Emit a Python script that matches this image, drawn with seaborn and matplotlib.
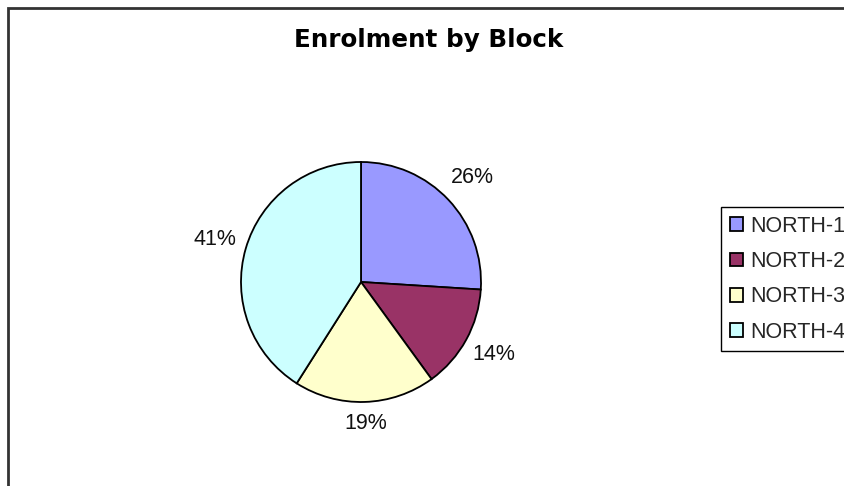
import numpy as np
import matplotlib
matplotlib.use("Agg")
import matplotlib.pyplot as plt
import matplotlib.patches as mpatches
import seaborn as sns

# data
blocks = ['NORTH-1', 'NORTH-2', 'NORTH-3', 'NORTH-4']
shares = [26, 14, 19, 41]
colors = ['#9999FF', '#993366', '#FFFFCC', '#CCFFFF']
title = 'Enrolment by Block'

sns.set_theme(style="white")
plt.rcParams['font.family'] = ['Liberation Sans', 'DejaVu Sans']
pal = sns.color_palette(colors)

W, H = 845, 486
fig = plt.figure(figsize=(W / 100, H / 100), dpi=100)
fig.patch.set_facecolor('white')

# chart border (right and bottom sides run past the picture)
fig.patches.append(mpatches.Rectangle((8 / W, -0.1), 1.2, 1.1 - 8 / H, transform=fig.transFigure,
                                      fill=False, edgecolor='#333333', linewidth=2, zorder=0))

# pie axes: centre (361, 282), radius 120 px
cx, cy, r = 361, 282, 120
ax = fig.add_axes([(cx - r) / W, (H - cy - r) / H, 2 * r / W, 2 * r / H])
wedges, texts, autotexts = ax.pie(shares, colors=pal, startangle=90, counterclock=False,
                                  autopct='%1.0f%%', pctdistance=1.25,
                                  wedgeprops=dict(edgecolor='black', linewidth=1.3),
                                  textprops=dict(fontsize=15.5, color='#111111'))
ax.set_xlim(-1, 1)
ax.set_ylim(-1, 1)
ax.set_aspect('equal')
ax.axis('off')

# label distances like the Excel placement
dists = [1.27, 1.26, 1.18, 1.27]
for w, t, d in zip(wedges, autotexts, dists):
    ang = np.deg2rad((w.theta1 + w.theta2) / 2)
    t.set_position((d * np.cos(ang), d * np.sin(ang)))
    t.set_ha('center')
    t.set_va('center')

fig.text(429 / W, 1 - 40 / H, title, ha='center', va='center', fontsize=17.7,
         fontweight='bold', family=['DejaVu Sans'], color='black')

leg = fig.legend(wedges, blocks, loc='upper left', bbox_to_anchor=(721 / W, 1 - 207 / H),
                 fontsize=15.5, frameon=True, fancybox=False, shadow=False, framealpha=1,
                 edgecolor='black', borderaxespad=0, borderpad=0.4, labelspacing=0.67,
                 handlelength=0.6, handleheight=0.6, handletextpad=0.35)
leg.get_frame().set_linewidth(1)
for h in leg.legend_handles:
    h.set_linewidth(1.3)
    h.set_edgecolor('black')

plt.savefig('out.png', dpi=100)
